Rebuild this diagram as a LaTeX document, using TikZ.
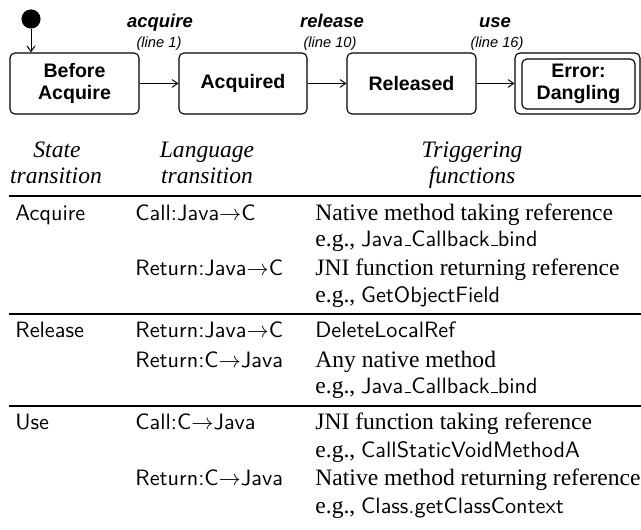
\documentclass[tikz,border=0pt]{standalone}
\usepackage{fontspec}
\setmainfont{Liberation Serif}
\newfontfamily\arialf{Liberation Sans}
\usetikzlibrary{arrows.meta}
\newcommand{\jc}[1]{{\sffamily\fontsize{10}{12}\selectfont #1}}
\newcommand{\rarr}{${\rightarrow}$}
\newcommand{\ubar}{\leavevmode\kern.06em\vbox{\hrule width.3em height 0.45pt}}
\begin{document}
\begin{tikzpicture}[x=0.45pt,y=-0.45pt,
  sbox/.style={draw, line width=0.5pt, rounded corners=2.2pt, inner sep=0pt, align=center, font=\arialf\bfseries\fontsize{8.8}{10}\selectfont},
  arr/.style={-{Straight Barb[length=2.5pt,width=3.5pt]}, line width=0.45pt},
  lab/.style={font=\arialf\bfseries\itshape\fontsize{8.3}{9}\selectfont, anchor=mid, inner sep=0pt},
  sub/.style={font=\arialf\itshape\fontsize{6.6}{8}\selectfont, anchor=mid, inner sep=0pt},
  hd/.style={font=\itshape\fontsize{10.6}{12}\selectfont, anchor=mid, inner sep=0pt},
  cl/.style={font=\fontsize{10.6}{12}\selectfont, anchor=mid west, inner sep=0pt},
  cs/.style={font=\sffamily\fontsize{10}{12}\selectfont, anchor=mid west, inner sep=0pt},
  rl/.style={line width=0.6pt}
]
\useasboundingbox (0,0) rectangle (641,529);

% state machine
\node[circle, fill, inner sep=0pt, minimum size=8.6pt] (init) at (31,19) {};
\node[sbox, minimum width=58.05pt, minimum height=27.45pt] (b1) at (74.5,83.5) {Before\\Acquire};
\node[sbox, minimum width=57.6pt, minimum height=27.45pt] (b2) at (243,83.5) {Acquired};
\node[sbox, minimum width=58.05pt, minimum height=27.45pt] (b3) at (411.5,83.5) {Released};
\node[sbox, minimum width=56.25pt, minimum height=27.45pt] (b4) at (577.5,83.5) {};
\node[sbox, minimum width=50.85pt, minimum height=22.5pt] (b4i) at (578.5,84) {Error:\\Dangling};

\draw[arr] (init) -- (init |- b1.north);
\draw[arr] (b1) -- (b2);
\draw[arr] (b2) -- (b3);
\draw[arr] (b3) -- (b4);

\node[lab] (l1) at (160,22) {acquire};
\node[sub] (s1) at (159,42) {(line 1)};
\node[lab] (l2) at (332,22) {release};
\node[sub] (s2) at (330,42) {(line 10)};
\node[lab] (l3) at (495,22) {use};
\node[sub] (s3) at (497,42) {(line 16)};

% table headers
\node[hd] (h1a) at (57,152) {State};
\node[hd] (h1b) at (56,178) {transition};
\node[hd] (h2a) at (207,152) {Language};
\node[hd] (h2b) at (207,178) {transition};
\node[hd] (h3a) at (472,152) {Triggering};
\node[hd] (h3b) at (472,178) {functions};

\draw[rl] (9,196) -- (641,196);
\draw[rl] (9,314) -- (641,314);
\draw[rl] (9,406) -- (641,406);

% rows
\node[cs] (r1a) at (15,215) {Acquire};
\node[cs] (r1b) at (135,215) {Call:Java\rarr C};
\node[cl] (r1c) at (315,215) {Native method taking reference};
\node[cl] (r1d) at (315,241) {e.g., \jc{Java\ubar Callback\ubar bind}};

\node[cs] (r2b) at (135,270) {Return:Java\rarr C};
\node[cl] (r2c) at (315,270) {JNI function returning reference};
\node[cl] (r2d) at (315,297) {e.g., \jc{GetObjectField}};

\node[cs] (r3a) at (15,332) {Release};
\node[cs] (r3b) at (135,332) {Return:Java\rarr C};
\node[cs] (r3c) at (315,332) {DeleteLocalRef};

\node[cs] (r4b) at (135,362) {Return:C\rarr Java};
\node[cl] (r4c) at (315,362) {Any native method};
\node[cl] (r4d) at (315,388) {e.g., \jc{Java\ubar Callback\ubar bind}};

\node[cs] (r5a) at (15,424) {Use};
\node[cs] (r5b) at (135,424) {Call:C\rarr Java};
\node[cl] (r5c) at (315,424) {JNI function taking reference};
\node[cl] (r5d) at (315,452) {e.g., \jc{CallStaticVoidMethodA}};

\node[cs] (r6b) at (135,480) {Return:C\rarr Java};
\node[cl] (r6c) at (315,480) {Native method returning reference};
\node[cl] (r6d) at (315,508) {e.g., \jc{Class.getClassContext}};
\end{tikzpicture}
\end{document}
